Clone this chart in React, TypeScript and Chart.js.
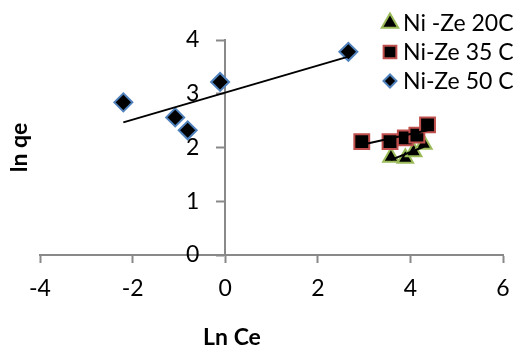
import React, { useEffect, useRef } from "react";
import { Chart, registerables } from "chart.js";
import { drawPoint } from "chart.js/helpers";

Chart.register(...registerables);

// ---- data ----
const seriesNames = ["Ni -Ze 20C", "Ni-Ze 35 C", "Ni-Ze 50 C"];
const lnCe20 = [3.58, 3.89, 4.07, 4.29];
const lnQe20 = [1.82, 1.8, 1.92, 2.06];
const lnCe35 = [2.95, 3.56, 3.89, 4.14, 4.37];
const lnQe35 = [2.11, 2.11, 2.18, 2.23, 2.42];
const lnCe50 = [-2.2, -1.08, -0.81, -0.11, 2.66];
const lnQe50 = [2.84, 2.56, 2.32, 3.22, 3.78];
const xTicks = [-4, -2, 0, 2, 4, 6];
const yTicks = [0, 1, 2, 3, 4];
const xTitle = "Ln Ce";
const yTitle = "ln qe";

const FONT = "Lato";
const AXIS = "#898989";
const borders = ["#9BBB59", "#C0504D", "#4F81BD"];
const styles = ["triangle", "rect", "rectRot"];
const radii = [9, 10.5, 9];
const legendRadii = [9.5, 9, 6.5];

function pts(xs: number[], ys: number[]) {
  return xs.map((x, i) => ({ x, y: ys[i] }));
}

function trend(xs: number[], ys: number[]) {
  const n = xs.length;
  const mx = xs.reduce((a, b) => a + b, 0) / n;
  const my = ys.reduce((a, b) => a + b, 0) / n;
  let sxy = 0;
  let sxx = 0;
  for (let i = 0; i < n; i++) {
    sxy += (xs[i] - mx) * (ys[i] - my);
    sxx += (xs[i] - mx) * (xs[i] - mx);
  }
  const b = sxy / sxx;
  const a = my - b * mx;
  const x0 = Math.min(...xs);
  const x1 = Math.max(...xs);
  return [
    { x: x0, y: a + b * x0 },
    { x: x1, y: a + b * x1 },
  ];
}

const overlay = {
  id: "overlay",
  afterDraw(chart: any) {
    const ctx = chart.ctx;
    ctx.save();
    ctx.fillStyle = "#000";
    ctx.textBaseline = "middle";
    // axis titles
    ctx.font = `bold 23px ${FONT}`;
    ctx.textAlign = "center";
    ctx.fillText(xTitle, 232, 338);
    ctx.save();
    ctx.translate(19.5, 147.5);
    ctx.rotate(-Math.PI / 2);
    ctx.fillText(yTitle, 0, 0);
    ctx.restore();
    // legend
    ctx.font = `23px ${FONT}`;
    ctx.textAlign = "left";
    seriesNames.forEach((name, i) => {
      const y = 23 + i * 29;
      ctx.save();
      ctx.fillStyle = "#000";
      ctx.strokeStyle = borders[i];
      ctx.lineWidth = 2;
      drawPoint(ctx, { pointStyle: styles[i], radius: legendRadii[i], rotation: 0, borderWidth: 2 }, 390, y);
      ctx.restore();
      ctx.fillStyle = "#000";
      ctx.fillText(name, 403, y + 1);
    });
    ctx.restore();
  },
};

export default function App() {
  const ref = useRef<HTMLCanvasElement>(null);
  useEffect(() => {
    if (!ref.current) return;
    const pointSet = (i: number, data: any) => ({
      type: "scatter" as const,
      label: seriesNames[i],
      data,
      showLine: false,
      pointStyle: styles[i],
      pointRadius: radii[i],
      pointBackgroundColor: "#000",
      pointBorderColor: borders[i],
      pointBorderWidth: 2,
    });
    const lineSet = (data: any) => ({
      type: "line" as const,
      data,
      borderColor: "#000",
      borderWidth: 2,
      pointRadius: 0,
      fill: false,
      order: 0,
    });
    const chart = new Chart(ref.current, {
      type: "scatter",
      data: {
        datasets: [
          lineSet(trend(lnCe50, lnQe50)),
          lineSet(trend(lnCe35, lnQe35)),
          lineSet(trend(lnCe20, lnQe20)),
          { ...pointSet(2, pts(lnCe50, lnQe50)), order: 1 },
          { ...pointSet(1, pts(lnCe35, lnQe35)), order: 2 },
          { ...pointSet(0, pts(lnCe20, lnQe20)), order: 3 },
        ] as any,
      },
      plugins: [overlay],
      options: {
        animation: false,
        responsive: false,
        clip: false as any,
        layout: { padding: { left: 40, right: 13, top: 40, bottom: 0 } },
        plugins: { legend: { display: false }, tooltip: { enabled: false }, title: { display: false } },
        scales: {
          x: {
            type: "linear",
            position: "bottom",
            min: -4,
            max: 6,
            afterBuildTicks: (s: any) => {
              s.ticks = xTicks.map((v) => ({ value: v }));
            },
            afterFit: (s: any) => {
              s.height = 94;
              s.paddingLeft = 0;
              s.paddingRight = 0;
            },
            border: { display: true, color: AXIS, width: 2 },
            grid: { drawOnChartArea: false, drawTicks: true, tickLength: 8, tickColor: AXIS, tickWidth: 2 },
            ticks: { color: "#000", font: { family: FONT, size: 23 }, padding: 12, maxRotation: 0 },
          },
          y: {
            type: "linear",
            position: { x: 0 } as any,
            min: 0,
            max: 4,
            afterBuildTicks: (s: any) => {
              s.ticks = yTicks.map((v) => ({ value: v }));
            },
            afterFit: (s: any) => {
              s.width = 0;
            },
            border: { display: true, color: AXIS, width: 2 },
            grid: { drawOnChartArea: false, drawTicks: true, tickLength: 8, tickColor: AXIS, tickWidth: 2 },
            ticks: { display: false },
          },
          yLabels: {
            type: "linear",
            axis: "y",
            position: { x: -0.56 } as any,
            min: 0,
            max: 4,
            afterBuildTicks: (s: any) => {
              s.ticks = yTicks.map((v) => ({ value: v }));
            },
            afterFit: (s: any) => {
              s.width = 0;
            },
            border: { display: false },
            grid: { display: false },
            ticks: { color: "#000", font: { family: FONT, size: 23 } },
          },
        } as any,
      },
    });
    return () => chart.destroy();
  }, []);
  return (
    <div style={{ position: "fixed", left: 0, top: 0, width: 516, height: 349, background: "#fff" }}>
      <canvas ref={ref} width={516} height={349} style={{ display: "block" }} />
    </div>
  );
}
